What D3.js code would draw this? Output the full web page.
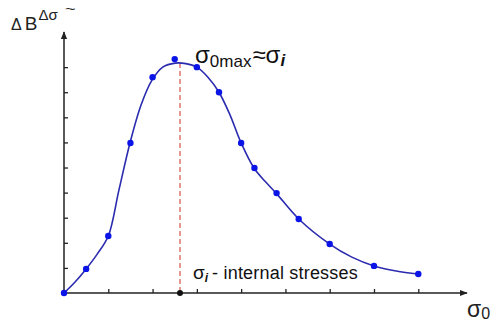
<!DOCTYPE html>
<html>
<head>
<meta charset="utf-8">
<script src="https://cdn.jsdelivr.net/npm/d3@7"></script>
<style>
  body { margin: 0; background: #fff; }
  text { font-family: "Liberation Sans", Arial, sans-serif; }
</style>
</head>
<body>
<div class="chart"></div>
<script>
// measured points (in tick units)
var pointX = [0, 0.5, 1.0, 1.5, 2.0, 2.5, 3.0, 3.5, 4.0, 4.3, 4.8, 5.3, 6.0, 7.0, 8.0];
var pointY = [0, 0.96, 2.27, 5.98, 8.6, 9.32, 9.0, 8.0, 5.98, 4.98, 3.98, 2.95, 1.95, 1.08, 0.76];

// fitted curve
var fitX = [0, 0.25, 0.5, 0.75, 1.0, 1.24, 1.49, 1.74, 1.99, 2.23, 2.51, 2.75, 3.0, 3.25, 3.5, 3.75, 4.0, 4.29, 4.54, 4.79, 5.3, 6.0, 6.5, 7.0, 7.5, 8.0];
var fitY = [0, 0.44, 0.96, 1.55, 2.27, 4.1, 5.98, 7.49, 8.49, 9.0, 9.16, 9.14, 9.0, 8.6, 8.0, 7.09, 5.98, 4.98, 4.45, 3.98, 2.95, 1.95, 1.43, 1.08, 0.88, 0.76];

var xTicks = [1, 2, 3, 4, 5, 6, 7, 8];
var yTicks = [1, 2, 3, 4, 5, 6, 7, 8, 9];
var peakX = 2.62, peakY = 9.16;

var width = 492, height = 324;

var svg = d3.select(".chart")
  .append("svg")
    .attr("width", width)
    .attr("height", height);

var x = d3.scaleLinear().domain([0, 9.1]).range([64, 467]);
var y = d3.scaleLinear().domain([0, 10.4]).range([293, 32]);

var axisColor = "#222";

// arrow head
svg.append("defs").append("marker")
  .attr("id", "arrow")
  .attr("viewBox", "0 0 10 10")
  .attr("refX", 9).attr("refY", 5)
  .attr("markerWidth", 8).attr("markerHeight", 8)
  .attr("markerUnits", "userSpaceOnUse")
  .attr("orient", "auto")
  .append("path")
    .attr("d", "M0,1 L10,5 L0,9 Z")
    .attr("fill", axisColor);

// axes
var xAxis = svg.append("g")
  .attr("transform", "translate(0," + y(0) + ")")
  .call(d3.axisBottom(x).tickValues(xTicks).tickSize(-4).tickFormat(""));
xAxis.select(".domain").remove();
xAxis.selectAll(".tick line").attr("stroke", axisColor).attr("stroke-width", 1.3);

var yAxis = svg.append("g")
  .attr("transform", "translate(" + x(0) + ",0)")
  .call(d3.axisLeft(y).tickValues(yTicks).tickSize(-4).tickFormat(""));
yAxis.select(".domain").remove();
yAxis.selectAll(".tick line").attr("stroke", axisColor).attr("stroke-width", 1.3);

svg.append("line")
  .attr("x1", x(0)).attr("y1", y(0))
  .attr("x2", x(9.1)).attr("y2", y(0))
  .attr("stroke", axisColor).attr("stroke-width", 1.5)
  .attr("marker-end", "url(#arrow)");

svg.append("line")
  .attr("x1", x(0)).attr("y1", y(0))
  .attr("x2", x(0)).attr("y2", y(10.4))
  .attr("stroke", axisColor).attr("stroke-width", 1.5)
  .attr("marker-end", "url(#arrow)");

// red dashed line at the peak
svg.append("line")
  .attr("x1", x(peakX)).attr("y1", y(peakY))
  .attr("x2", x(peakX)).attr("y2", y(0))
  .attr("stroke", "#d9534f")
  .attr("stroke-width", 1.2)
  .attr("stroke-dasharray", "5,3");

// fitted curve
var fit = fitX.map(function(d, i) { return [d, fitY[i]]; });
var line = d3.line()
  .x(function(d) { return x(d[0]); })
  .y(function(d) { return y(d[1]); })
  .curve(d3.curveCatmullRom.alpha(0.5));

svg.append("path")
  .datum(fit)
  .attr("d", line)
  .attr("fill", "none")
  .attr("stroke", "#2b2bb0")
  .attr("stroke-width", 1.6);

// data points
var pts = pointX.map(function(d, i) { return [d, pointY[i]]; });
svg.selectAll(".pt")
  .data(pts)
  .enter().append("circle")
    .attr("class", "pt")
    .attr("cx", function(d) { return x(d[0]); })
    .attr("cy", function(d) { return y(d[1]); })
    .attr("r", 3.2)
    .attr("fill", "#0a14e6");

// black dot on the axis
svg.append("circle")
  .attr("cx", x(peakX)).attr("cy", y(0))
  .attr("r", 3)
  .attr("fill", "#111");

// y-axis label: ΔB^{Δσ~}
var yl = svg.append("text")
  .attr("x", 11).attr("y", 30)
  .style("font-size", "19px")
  .style("fill", "#222");
yl.append("tspan").style("font-size", "16px").text("\u0394");
yl.append("tspan").attr("dx", 3).text("B");
yl.append("tspan").attr("dy", -10).attr("dx", 1).style("font-size", "15px").text("\u0394\u03c3");
svg.append("text")
  .attr("transform", "translate(65,13) scale(1.4,1)")
  .style("font-size", "13px")
  .style("fill", "#222")
  .text("~");

// peak annotation
var pk = svg.append("text")
  .attr("x", 195).attr("y", 63)
  .style("font-size", "24px")
  .style("fill", "#111");
pk.append("tspan").text("\u03c3");
pk.append("tspan").attr("dy", 4).style("font-size", "17px").text("0max");
pk.append("tspan").attr("dy", -4).attr("dx", 1).text("\u2248\u03c3");
pk.append("tspan").attr("dy", 3).style("font-size", "17px")
  .style("font-style", "italic").style("font-weight", "bold").text("i");

// bottom annotation
var ann = svg.append("text")
  .attr("x", 193).attr("y", 279)
  .style("font-size", "18px")
  .style("fill", "#111");
ann.append("tspan").style("font-size", "19px").text("\u03c3");
ann.append("tspan").attr("dy", 3).style("font-size", "12px")
  .style("font-style", "italic").style("font-weight", "bold").text("i");
ann.append("tspan").attr("dy", -3).attr("dx", 4)
  .style("letter-spacing", "0.2px").text("- internal stresses");

// x-axis label
var xl = svg.append("text")
  .attr("x", 467).attr("y", 317)
  .style("font-size", "23px")
  .style("fill", "#222");
xl.append("tspan").text("\u03c3");
xl.append("tspan").attr("dy", 2).style("font-size", "16px").text("0");
</script>
</body>
</html>
